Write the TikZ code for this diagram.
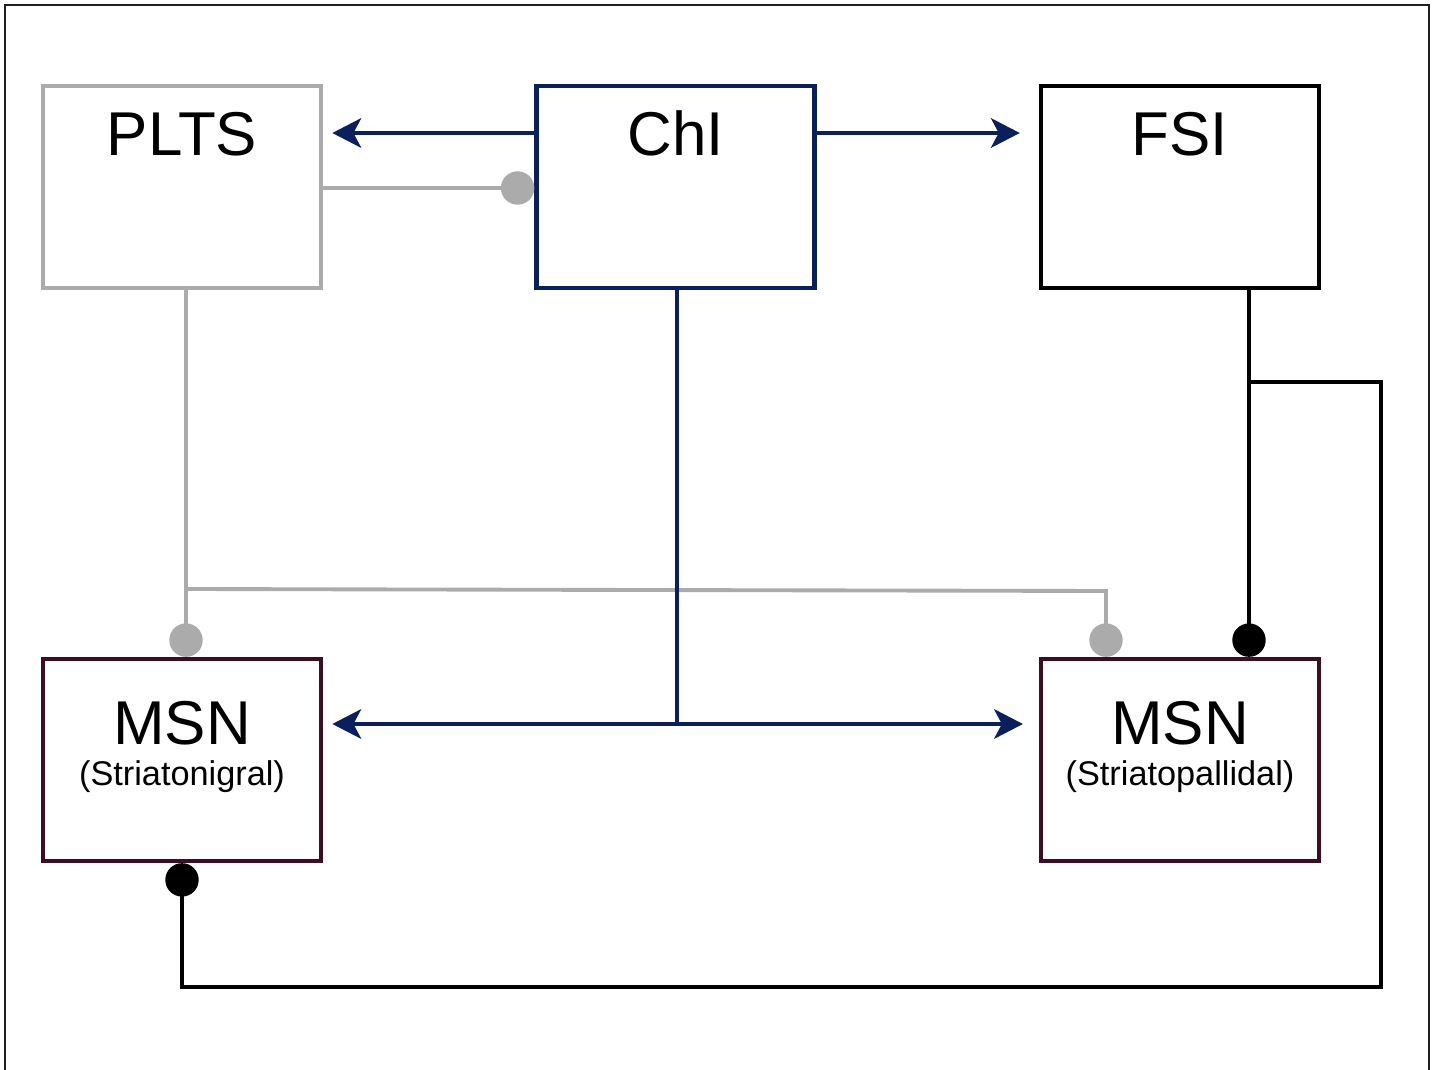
\documentclass[tikz,border=0pt]{standalone}
\usepackage{fontspec}
\setmainfont{Liberation Sans}
\usetikzlibrary{arrows.meta,positioning}
\definecolor{navy}{HTML}{0A1F5E}
\definecolor{maroon}{HTML}{3F0D22}
\definecolor{gry}{HTML}{ABABAB}
\definecolor{frm}{HTML}{1E1E1E}

\begin{document}
\begin{tikzpicture}[x=0.01cm, y=-0.01cm, line join=miter, >={Stealth[length=8.2pt,width=8.4pt,inset=2.2pt]},
	cell/.style={draw=#1, line width=1.2pt, minimum width=2.78cm, minimum height=2.02cm, inner sep=0pt},
	title/.style={font=\fontsize{17.6}{20}\selectfont, anchor=base, inner sep=0pt},
	sub/.style={font=\fontsize{9.75}{12}\selectfont, anchor=base, inner sep=0pt},
	link/.style={draw=#1, line width=1.1pt},
	dot/.style={-{Circle[length=9.5pt]}}]
	\useasboundingbox (0,0) rectangle (1435,1070);
	\draw[frm, line width=0.8pt] (5,1070) -- (5,5) -- (1429,5) -- (1429,1070);
	\foreach \n/\t/\c/\x in {plts/PLTS/gry/182, chi/ChI/navy/675.5, fsi/FSI/black/1180}{
		\node[cell=\c] (\n) at (\x,187) {};
		\node[title] (\n-t) at ([yshift=-0.72cm]\n.north) {\t};
	}
	\foreach \n/\s/\x in {msnl/Striatonigral/182, msnr/Striatopallidal/1180}{
		\node[cell=maroon] (\n) at (\x,760) {};
		\node[title] (\n-t) at ([yshift=-0.88cm]\n.north) {MSN};
		\node[sub] (\n-s) at ([yshift=-1.29cm]\n.north) {(\s)};
	}
	\coordinate (ay) at (0,133);
	\coordinate (gy) at (0,188);
	\coordinate (gsplit) at (186,589);
	\coordinate (gturn) at (1106,591);
	\coordinate (bsplit) at (677,724);
	\coordinate (ksplit) at (1249,382);
	\coordinate (kne) at (1381,382);
	\coordinate (kse) at (1381,987);
	\coordinate (ksw) at (182,987);
	\draw[link=gry, dot] (plts.east |- gy) -- (chi.west |- gy);
	\draw[link=gry, dot] (plts.south -| gsplit) -- (msnl.north -| gsplit);
	\draw[link=gry, dot] (gsplit) -- (gturn) -- (msnr.north -| gturn);
	\draw[link=navy, ->, shorten >=2.6pt] (chi.west |- ay) -- (plts.east |- ay);
	\draw[link=navy, ->, shorten >=5.4pt] (chi.east |- ay) -- (fsi.west |- ay);
	\draw[link=navy] (chi.south -| bsplit) -- (bsplit);
	\draw[link=navy, ->, shorten >=2.6pt] (bsplit) -- (msnl.east |- bsplit);
	\draw[link=navy, ->, shorten >=4.5pt] (bsplit) -- (msnr.west |- bsplit);
	\draw[link=black, dot] (fsi.south -| ksplit) -- (msnr.north -| ksplit);
	\draw[link=black, dot] (ksplit) -- (kne) -- (kse) -- (ksw) -- (msnl.south -| ksw);
\end{tikzpicture}
\end{document}
